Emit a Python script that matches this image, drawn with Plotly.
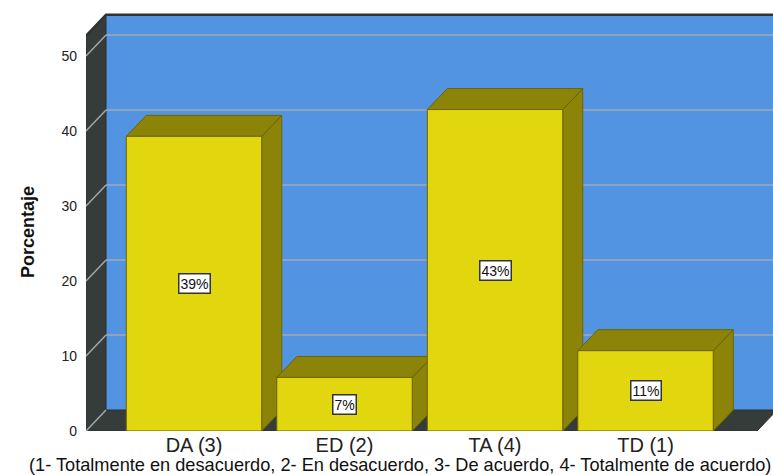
import plotly.graph_objects as go

# Response categories and their share of answers (%)
categories = ["DA (3)", "ED (2)", "TA (4)", "TD (1)"]
percentages = [39.29, 7.14, 42.86, 10.71]
y_ticks = [0, 10, 20, 30, 40, 50]
x_title = "(1- Totalmente en desacuerdo, 2- En desacuerdo, 3- De acuerdo, 4- Totalmente de acuerdo)"
y_title = "Porcentaje"

FONT = "Liberation Sans, Arial, sans-serif"

# Canvas and axis geometry
W, H = 773, 475
M_L, M_B = 86, 44
X_RANGE = [-0.7176, 3.847]
Y_RANGE = [0, 57.47]

# Oblique 3D look
BAR_W = 0.9
DX = 0.133      # depth offset in category units
DY = 2.8        # depth offset in percent units
WALL_TOP = 52.7
FLOOR_L = X_RANGE[0]
FLOOR_R = len(categories) - 1 + 0.741
RIGHT_EDGE = X_RANGE[1] + 0.2

C_WALL = "#5394e2"
C_DARK = "#363c3a"
C_GRID = "#a2a8b0"
C_FRONT = "#e2d60f"
C_SHADE = "#8c8408"
C_EDGE = "#6b6400"

fig = go.Figure()


def poly(xs, ys, fill, line_color, line_width=1):
    fig.add_trace(go.Scatter(
        x=xs + [xs[0]], y=ys + [ys[0]], mode="lines", fill="toself",
        fillcolor=fill, line=dict(color=line_color, width=line_width),
        hoverinfo="skip", showlegend=False))


# Back wall
poly([FLOOR_L + DX, RIGHT_EDGE, RIGHT_EDGE, FLOOR_L + DX],
     [DY, DY, WALL_TOP + DY, WALL_TOP + DY], C_WALL, C_WALL, 0)
# Left side wall
poly([FLOOR_L, FLOOR_L + DX, FLOOR_L + DX, FLOOR_L],
     [0, DY, WALL_TOP + DY, WALL_TOP], C_DARK, "#2b302e")
# Floor
poly([FLOOR_L, FLOOR_R, FLOOR_R + DX, FLOOR_L + DX],
     [0, 0, DY, DY], C_DARK, "#2b302e")

# Gridlines: slanted on the side wall, level across the back wall
gx, gy = [], []
for v in y_ticks:
    gx += [FLOOR_L, FLOOR_L + DX, None]
    gy += [v, v + DY, None]
    if v > 0:
        gx += [FLOOR_L + DX, RIGHT_EDGE, None]
        gy += [v + DY, v + DY, None]
fig.add_trace(go.Scatter(x=gx, y=gy, mode="lines",
                         line=dict(color=C_GRID, width=1.5),
                         hoverinfo="skip", showlegend=False))

# Top edge of the back wall
fig.add_trace(go.Scatter(x=[FLOOR_L, FLOOR_L + DX, RIGHT_EDGE],
                         y=[WALL_TOP, WALL_TOP + DY, WALL_TOP + DY],
                         mode="lines", line=dict(color="#2f3331", width=2.5),
                         hoverinfo="skip", showlegend=False))

# Bars: side, top and front faces, left to right
for i, v in enumerate(percentages):
    x0, x1 = i - BAR_W / 2, i + BAR_W / 2
    poly([x1, x1 + DX, x1 + DX, x1], [0, DY, v + DY, v], C_SHADE, C_EDGE)
    poly([x0, x1, x1 + DX, x0 + DX], [v, v, v + DY, v + DY], C_SHADE, C_EDGE)
    poly([x0, x1, x1, x0], [0, 0, v, v], C_FRONT, C_EDGE)

# Value labels in the middle of each bar
for i, v in enumerate(percentages):
    fig.add_annotation(x=i, y=v / 2, text=f"{round(v)}%", showarrow=False,
                       font=dict(family=FONT, size=14, color="#111"),
                       bgcolor="white", bordercolor="#333", borderwidth=1.5,
                       borderpad=1)

# Axis titles
fig.add_annotation(xref="paper", yref="paper", x=-(86 - 28) / (W - M_L),
                   y=(431 - 232) / 431, text=f"<b>{y_title}</b>",
                   textangle=-90, showarrow=False, xanchor="center",
                   yanchor="middle", font=dict(family=FONT, size=18, color="#111"))
fig.add_annotation(xref="paper", yref="paper", x=1.0, y=-(465 - 431) / 431,
                   text=x_title, showarrow=False, xanchor="right",
                   yanchor="middle", font=dict(family=FONT, size=18.2, color="#111"))

fig.update_layout(
    width=W, height=H,
    margin=dict(l=M_L, r=0, t=0, b=M_B, pad=0),
    paper_bgcolor="white", plot_bgcolor="white",
    showlegend=False,
    xaxis=dict(range=X_RANGE, tickvals=list(range(len(categories))),
               ticktext=categories, showgrid=False, zeroline=False,
               showline=False, ticks="", ticklabelstandoff=0,
               tickfont=dict(family=FONT, size=20, color="#222")),
    yaxis=dict(range=Y_RANGE, tickvals=y_ticks, showgrid=False,
               zeroline=False, showline=False, ticks="",
               ticklabelstandoff=8,
               tickfont=dict(family=FONT, size=14, color="#222")),
)

fig.write_html("out.html")
